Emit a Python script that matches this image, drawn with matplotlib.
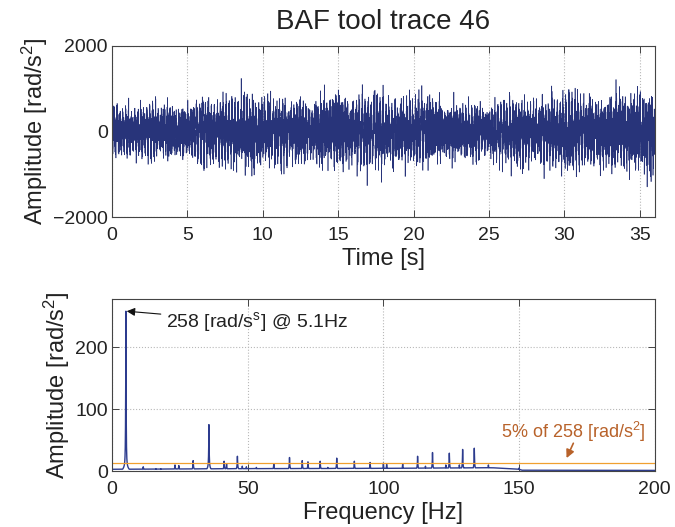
import numpy as np
import matplotlib
matplotlib.use("Agg")
import matplotlib.pyplot as plt

plt.rcParams['font.family'] = ['Liberation Sans', 'DejaVu Sans']
plt.rcParams['mathtext.fontset'] = 'custom'
plt.rcParams['mathtext.rm'] = 'Liberation Sans'
plt.rcParams['mathtext.it'] = 'Liberation Sans'
plt.rcParams['mathtext.default'] = 'regular'

# Spectral peaks of the acceleration trace [Hz] and [rad/s^2]
peak_freq = [5.1, 11.5, 16.2, 18.0, 23.2, 24.6, 29.9, 35.7, 41.3, 42.2,
             46.2, 48.0, 49.5, 53.2, 59.6, 65.4, 70.1, 72.2, 76.7, 79.5,
             82.8, 89.3, 95.1, 100.0, 101.2, 107.1, 112.6, 115.5, 118.1, 123.0,
             124.3, 128.0, 129.2, 133.5, 138.7, 143.8, 150.0]
peak_amp = [258, 7, 4, 4, 10, 9, 17, 75, 16, 12,
            24, 8, 7, 6, 12, 22, 17, 15, 16, 6,
            21, 16, 14, 13, 11, 12, 24, 8, 30, 10,
            29, 10, 35, 37, 10, 4, 5]

# Broadband floor of the spectrum
floor_freq = [0, 50, 100, 140, 150, 151, 200]
floor_amp = [3.0, 4.0, 4.5, 5.5, 3.0, 1.5, 1.2]

# Level of the largest excursions in the time trace [rad/s^2]
env_time = [0, 2, 4, 6, 8, 10, 12, 14, 16, 18, 20, 22, 24, 26, 28, 30, 32, 34, 36]
env_level = [750, 800, 900, 1000, 950, 1050, 950, 1100, 1050, 950,
             1150, 950, 900, 850, 950, 1150, 1100, 1300, 1150]

duration = 36.0
fs = 400.0
peak_ref = 258

pf = np.asarray(peak_freq, float)
pa = np.asarray(peak_amp, float)
skirt = 1.5 * np.sqrt(pa)          # height of the base under each line
line = pa - skirt                   # sharp part of each line


def broadband(freq):
    """Floor of the spectrum together with the skirts around the lines."""
    spec = np.interp(freq, floor_freq, floor_amp)
    for fk, sk in zip(pf, skirt):
        spec = np.maximum(spec, sk * np.exp(-np.abs(freq - fk) / 0.6))
    return spec


def amplitude_spectrum(freq):
    spec = np.interp(freq, floor_freq, floor_amp)
    for fk, lk, sk in zip(pf, line, skirt):
        d = np.abs(freq - fk)
        spec = np.maximum(spec, lk * np.exp(-d / 0.1) + sk * np.exp(-d / 0.6))
    return spec


# --- time trace: spectral lines as sinusoids plus the broadband part ---
n = int(duration * fs)
t = np.arange(n) / fs
fb = np.fft.rfftfreq(n, 1.0 / fs)
k = np.arange(fb.size, dtype=float)
phase_b = 2 * np.pi * np.mod(k ** 3 * 0.6180339887498949, 1.0)
coef = broadband(fb) * n / 2 * np.exp(1j * phase_b)
coef[0] = 0
trace = np.fft.irfft(coef, n=n)
phase_l = 2 * np.pi * np.mod((np.arange(pf.size) + 1) ** 2 * 0.6180339887498949, 1.0)
trace += (line[:, None] * np.sin(2 * np.pi * pf[:, None] * t[None, :] + phase_l[:, None])).sum(axis=0)
trace = trace / (3.1 * trace.std()) * np.interp(t, env_time, env_level)

# --- amplitude spectrum on a fine grid ---
f = np.union1d(np.linspace(0, 200, 12001), pf)
spec = amplitude_spectrum(f)

fig = plt.figure(figsize=(6.75, 5.27), dpi=100)
ax1 = fig.add_axes([0.166, 0.588, 0.804, 0.325])
ax2 = fig.add_axes([0.166, 0.106, 0.804, 0.327])

for ax in (ax1, ax2):
    for s in ax.spines.values():
        s.set_color('#444444')
        s.set_linewidth(0.8)
    ax.tick_params(direction='in', top=True, right=True, length=5, width=0.7,
                   labelsize=14, colors='#444444', labelcolor='#222222', pad=3)
    ax.tick_params(axis='x', pad=7)
    ax.grid(True, linestyle=':', color='#b8b8b8', linewidth=0.8)
    ax.set_axisbelow(True)

ax1.plot(t, trace, color='#28347a', linewidth=0.45)
ax1.set_xlim(0, 36)
ax1.set_ylim(-2000, 2000)
ax1.set_xticks(np.arange(0, 36, 5))
ax1.set_yticks([-2000, 0, 2000])
ax1.set_yticklabels(['\u22122000', '0', '2000'])
ax1.set_xlabel('Time [s]', fontsize=17, labelpad=3, color='#222222')
ax1.set_ylabel('Amplitude [rad/s$^2$]', fontsize=17, labelpad=2, color='#222222')
ax1.set_title('BAF tool trace 46', fontsize=20, pad=12, color='#222222')

ax2.plot(f, spec, color='#2c3b8e', linewidth=1.0)
ax2.axhline(0.05 * peak_ref, color='#f0a030', linewidth=0.9)
ax2.set_xlim(0, 200)
ax2.set_ylim(0, 278)
ax2.set_xticks([0, 50, 100, 150, 200])
ax2.set_yticks([0, 100, 200])
ax2.set_xlabel('Frequency [Hz]', fontsize=17, labelpad=3, color='#222222')
ax2.set_ylabel('Amplitude [rad/s$^2$]', fontsize=17, labelpad=2, color='#222222')

ax2.annotate('%d [rad/s$^s$] @ %.1fHz' % (peak_ref, peak_freq[0]),
             xy=(peak_freq[0] + 0.3, peak_ref), xytext=(20, 240),
             fontsize=14, color='#222222', va='center',
             arrowprops=dict(arrowstyle='-|>', color='#111111', lw=0.8,
                             mutation_scale=12, shrinkA=2, shrinkB=0))
ax2.text(170, 63, '5%% of %d [rad/s$^2$]' % peak_ref, fontsize=13,
         color='#b8622a', ha='center', va='center')
ax2.annotate('', xy=(167.5, 21), xytext=(170, 45),
             arrowprops=dict(arrowstyle='-|>', color='#b8622a', lw=1.2,
                             mutation_scale=12, shrinkA=0, shrinkB=0))

fig.savefig('out.png', dpi=100)
